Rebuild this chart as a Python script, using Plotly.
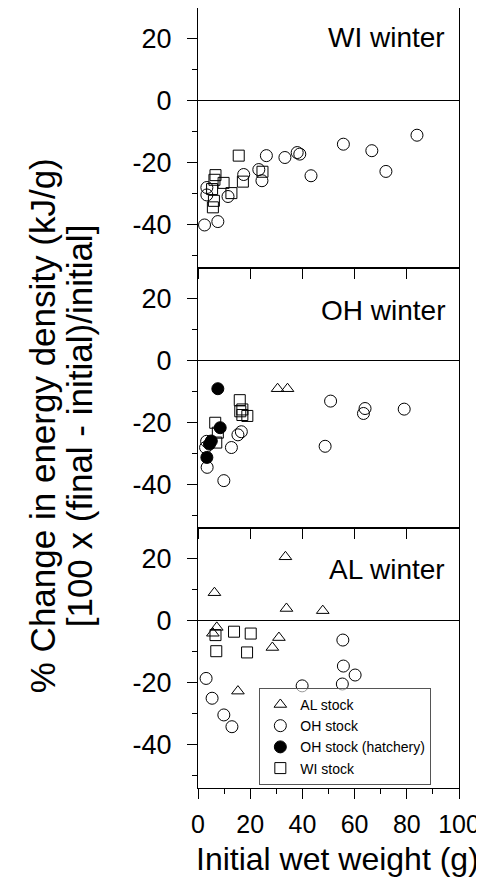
import plotly.graph_objects as go

# ---------------- data ----------------
# Panel 1: WI winter
wi_oh_x = [2.5, 7.6, 3.4, 3.4, 11.5, 17.5, 23.3, 24.5, 26.2, 33.3, 38.0, 39.0, 43.3, 55.7, 66.6, 72.0, 83.9]
wi_oh_y = [-40.1, -39.0, -28.0, -30.4, -30.9, -23.8, -22.2, -25.8, -17.7, -18.3, -16.7, -17.2, -24.2, -14.0, -16.1, -22.8, -11.1]
wi_wi_x = [15.6, 6.7, 6.3, 9.8, 12.8, 5.4, 6.1, 5.7, 17.2, 24.7]
wi_wi_y = [-17.7, -24.0, -25.5, -26.5, -29.8, -28.5, -32.3, -34.4, -26.1, -22.9]

# Panel 2: OH winter
oh_al_x = [30.5, 34.3]
oh_al_y = [-9.0, -9.0]
oh_oh_x = [3.5, 3.3, 2.9, 9.9, 12.8, 15.3, 16.6, 50.8, 48.7, 64.0, 63.4, 79.0]
oh_oh_y = [-34.4, -26.0, -28.0, -38.7, -28.0, -23.9, -22.9, -13.0, -27.6, -15.4, -17.0, -15.6]
oh_hat_x = [7.6, 8.5, 5.1, 4.4, 3.4]
oh_hat_y = [-9.0, -21.6, -25.9, -26.9, -31.2]
oh_wi_x = [6.6, 7.6, 7.0, 16.0, 17.0, 16.2, 18.9, 17.0]
oh_wi_y = [-20.0, -23.2, -26.4, -12.7, -15.7, -16.3, -17.8, -17.5]

# Panel 3: AL winter
al_al_x = [33.5, 6.3, 33.9, 47.8, 5.7, 7.2, 31.0, 28.5, 15.3]
al_al_y = [20.7, 9.1, 4.0, 3.3, -4.0, -2.1, -5.4, -8.6, -22.7]
al_oh_x = [3.1, 5.4, 9.9, 13.0, 39.9, 55.5, 55.7, 60.2, 55.3]
al_oh_y = [-18.6, -25.0, -30.4, -34.2, -21.0, -6.2, -14.6, -17.5, -20.4]
al_wi_x = [6.7, 7.0, 13.8, 20.2, 18.8]
al_wi_y = [-4.6, -9.8, -3.5, -4.1, -10.2]

panel_titles = ["WI winter", "OH winter", "AL winter"]
legend_names = ["AL stock", "OH stock", "OH stock (hatchery)", "WI stock"]
x_tick_vals = [0, 20, 40, 60, 80, 100]
x_tick_text = ["0", "20", "40", "60", "80", "100"]
y_tick_vals = [-40, -20, 0, 20]
y_tick_text = ["-40", "-20", "0", "20"]

FONT = "Liberation Sans, Arial, sans-serif"
BLACK = "#000000"

styles = {
    "AL stock": dict(symbol="triangle-up-open", size=11, color=BLACK, line=dict(width=1, color=BLACK)),
    "OH stock": dict(symbol="circle-open", size=12, color=BLACK, line=dict(width=1, color=BLACK)),
    "OH stock (hatchery)": dict(symbol="circle", size=12, color=BLACK, line=dict(width=1, color=BLACK)),
    "WI stock": dict(symbol="square-open", size=11, color=BLACK, line=dict(width=1, color=BLACK)),
}
ranks = {n: i for i, n in enumerate(legend_names)}

fig = go.Figure()
shown = set()


def add(x, y, name, row):
    ax = "" if row == 1 else str(row)
    show = name not in shown
    shown.add(name)
    fig.add_trace(go.Scatter(
        x=x, y=y, mode="markers", name=name, legendgroup=name,
        showlegend=show, legendrank=ranks[name] + 1,
        marker=styles[name], xaxis="x" + ax, yaxis="y" + ax,
        hoverinfo="x+y+name",
    ))


add(wi_oh_x, wi_oh_y, "OH stock", 1)
add(wi_wi_x, wi_wi_y, "WI stock", 1)
add(oh_al_x, oh_al_y, "AL stock", 2)
add(oh_oh_x, oh_oh_y, "OH stock", 2)
add(oh_wi_x, oh_wi_y, "WI stock", 2)
add(oh_hat_x, oh_hat_y, "OH stock (hatchery)", 2)
add(al_al_x, al_al_y, "AL stock", 3)
add(al_oh_x, al_oh_y, "OH stock", 3)
add(al_wi_x, al_wi_y, "WI stock", 3)

# the page body adds an 8px offset, so the figure is 8px smaller than the window
domains = [[2 / 3, 1], [1 / 3, 2 / 3], [0, 1 / 3]]
layout = dict(
    width=476, height=882,
    margin=dict(l=190, r=25, t=0, b=102, autoexpand=False),
    paper_bgcolor="white", plot_bgcolor="white",
    font=dict(family=FONT, color=BLACK),
    showlegend=True,
    legend=dict(
        x=0.235, y=0.004, xanchor="left", yanchor="bottom",
        font=dict(size=14, family=FONT, color=BLACK),
        bgcolor="rgba(255,255,255,0.6)", bordercolor="#555555", borderwidth=1,
        tracegroupgap=0,
    ),
)

for i in range(3):
    ax = "" if i == 0 else str(i + 1)
    bottom = i == 2
    xa = dict(
        domain=[0, 1], anchor="y" + ax, range=[0, 100],
        tickmode="array", tickvals=x_tick_vals, ticktext=x_tick_text,
        ticks="outside", ticklen=10, tickwidth=1, tickcolor=BLACK,
        showline=True, linecolor=BLACK, linewidth=1, mirror=True,
        showgrid=False, zeroline=False,
        showticklabels=bottom,
        tickfont=dict(size=25, family=FONT, color=BLACK),
        ticklabelstandoff=4,
    )
    if bottom:
        xa["minor"] = dict(tickvals=[10, 30, 50, 70, 90], ticks="outside", ticklen=5, tickcolor=BLACK)
    layout["xaxis" + ax] = xa
    layout["yaxis" + ax] = dict(
        domain=domains[i], anchor="x" + ax, range=[-54, 30],
        tickmode="array", tickvals=y_tick_vals, ticktext=y_tick_text,
        ticks="outside", ticklen=10, tickwidth=1, tickcolor=BLACK,
        showline=True, linecolor=BLACK, linewidth=1, mirror=True,
        showgrid=False, zeroline=True, zerolinecolor=BLACK, zerolinewidth=1,
        tickfont=dict(size=27, family=FONT, color=BLACK),
        ticklabelstandoff=10,
        minor=dict(tickvals=[-50, -30, -10, 10], ticks="outside", ticklen=5, tickcolor=BLACK),
    )

fig.update_layout(**layout)

title_y = [0.886, 0.838, 0.841]
for i, t in enumerate(panel_titles):
    ax = "" if i == 0 else str(i + 1)
    fig.add_annotation(
        text=t, xref="x" + ax + " domain", yref="y" + ax + " domain",
        x=0.955, y=title_y[i], xanchor="right", yanchor="middle",
        showarrow=False, font=dict(size=28, family=FONT, color=BLACK),
    )

# y-axis title (two lines)
fig.add_annotation(
    text="% Change in energy density (kJ/g)", xref="paper", yref="paper",
    x=-0.598, y=0.465, xanchor="center", yanchor="middle", textangle=-90,
    showarrow=False, font=dict(size=35, family=FONT, color=BLACK),
)
fig.add_annotation(
    text="[100 x (final - initial)/initial]", xref="paper", yref="paper",
    x=-0.456, y=0.465, xanchor="center", yanchor="middle", textangle=-90,
    showarrow=False, font=dict(size=35, family=FONT, color=BLACK),
)
# x-axis title
fig.add_annotation(
    text="Initial wet weight (g)", xref="paper", yref="paper",
    x=0.533, y=-0.0915, xanchor="center", yanchor="middle",
    showarrow=False, font=dict(size=32, family=FONT, color=BLACK),
)

fig.write_html("out.html")
